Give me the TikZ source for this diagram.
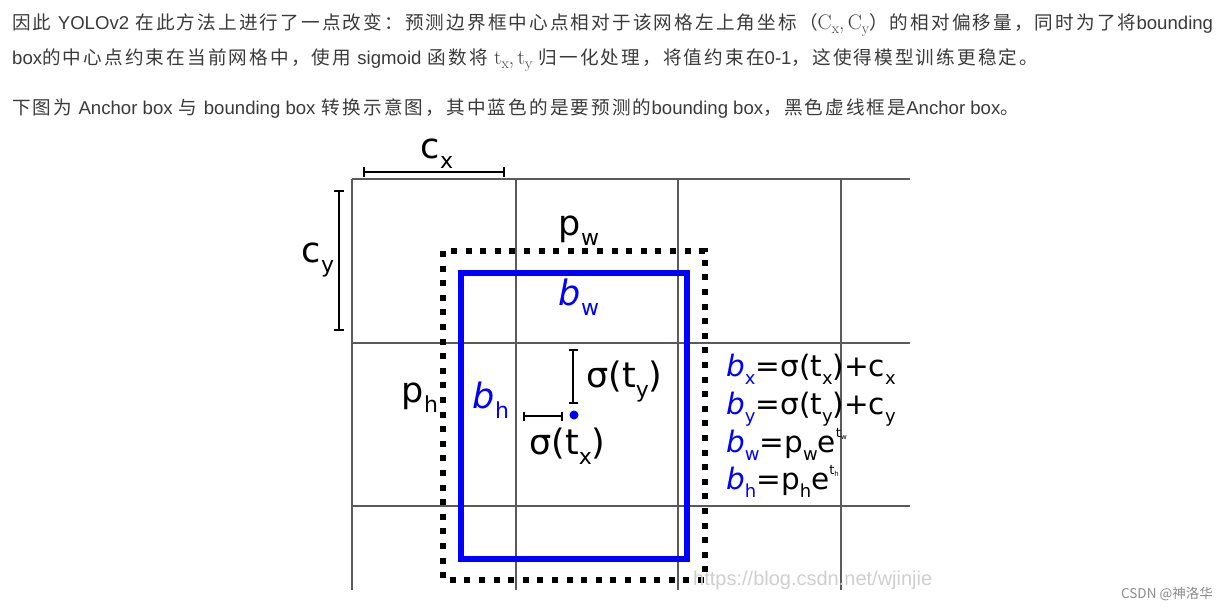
\documentclass[tikz,border=0pt]{standalone}
\usepackage[no-math]{fontspec}
\setmainfont{DejaVu Sans}
\newfontfamily\cjk[LetterSpace=11.5]{Noto Sans CJK SC}
\newfontfamily\cjkplain{Noto Sans CJK SC}
\newfontfamily\arialish{Liberation Sans}
\newfontfamily\lmr{Latin Modern Roman}
\usetikzlibrary{arrows.meta}
\definecolor{gridgray}{HTML}{5A5A5A}
\definecolor{txtgray}{HTML}{3A3A3A}
\definecolor{wmgray}{HTML}{CFCFCF}
\definecolor{bboxblue}{HTML}{0000FF}
\newcommand{\lsb}[1]{\raisebox{-0.3em}{\fontsize{22}{22}\selectfont #1}}
\newcommand{\esb}[1]{\raisebox{-0.3em}{\fontsize{18}{18}\selectfont #1}}
\newcommand{\expo}[1]{\raisebox{0.5em}{\fontsize{13}{13}\selectfont t\raisebox{-0.15em}{\fontsize{7}{7}\selectfont #1}}}
\newcommand{\la}[1]{{\arialish #1}}
\newcommand{\mv}[2]{{\lmr\fontsize{21}{21}\selectfont #1\raisebox{-0.22em}{\fontsize{15}{15}\selectfont #2}}}
\tikzset{
  x=1pt, y=-1pt,
  gridline/.style={draw=gridgray, line width=1.3pt},
  anchorbox/.style={draw=black, line width=6pt, dash pattern=on 6pt off 8.6pt},
  predbox/.style={draw=bboxblue, line width=6.5pt},
  dimbar/.style={draw=black, line width=2.3pt, {Bar[width=10pt]}-{Bar[width=10pt]}},
  smallbar/.style={draw=black, line width=2.2pt, {Bar[width=9pt]}-{Bar[width=9pt]}},
  lab/.style={inner sep=0pt, anchor=base, font=\fontsize{35}{35}\selectfont},
  eq/.style={inner sep=0pt, anchor=base west, font=\fontsize{29.5}{29.5}\selectfont},
  para/.style={inner sep=0pt, anchor=base west, text=txtgray, font=\cjk\fontsize{18.6}{18.6}\selectfont},
}
\begin{document}
\begin{tikzpicture}
\useasboundingbox[fill=white] (0,0) rectangle (1225,611);
% paragraph text
\node[para] (l1) at (12,29) {因此 \la{YOLOv2} 在此方法上进行了一点改变：预测边界框中心点相对于该网格左上角坐标（\mv{C}{x}\mv{,\,}{}\mv{C}{y}）的相对偏移量，同时为了将\la{bounding}};
\node[para] (l2) at (12,64) {\la{box}的中心点约束在当前网格中，使用 \la{sigmoid} 函数将 \mv{t}{x}\mv{,\,}{}\mv{t}{y} 归一化处理，将值约束在\la{0-1}，这使得模型训练更稳定。};
\node[para] (l3) at (12,114) {下图为 \la{Anchor box} 与 \la{bounding box} 转换示意图，其中蓝色的是要预测的\la{bounding box}，黑色虚线框是\la{Anchor box}。};
% grid
\foreach \gx in {352,516,678,841} \draw[gridline] (\gx,179) -- (\gx,590);
\foreach \gy in {179,343,506} \draw[gridline] (352,\gy) -- (910,\gy);
% anchor box (dotted) and predicted box (blue)
\draw[anchorbox] (443,251) rectangle (705,580);
\draw[predbox] (461,273) rectangle (687,559);
% dimension bars
\coordinate (cxa) at (363,172); \coordinate (cxb) at (505,172);
\coordinate (cya) at (339,190); \coordinate (cyb) at (339,331);
\coordinate (tya) at (573,349); \coordinate (tyb) at (573,404);
\coordinate (txa) at (523,416); \coordinate (txb) at (563,416);
\draw[dimbar] (cxa) -- (cxb);
\draw[dimbar] (cya) -- (cyb);
\draw[smallbar] (tya) -- (tyb);
\draw[smallbar] (txa) -- (txb);
\fill[bboxblue] (574,415) circle (4.5pt) node (ctr) {};
% labels
\node[lab] (cx) at (437,158) {c\lsb{x}};
\node[lab] (cy) at (318,262) {c\lsb{y}};
\node[lab] (pw) at (579,235) {p\lsb{w}};
\node[lab, text=bboxblue] (bw) at (579,305) {\itshape b\lsb{\upshape w}};
\node[lab] (ph) at (420,402) {p\lsb{h}};
\node[lab, text=bboxblue] (bh) at (491,408) {\itshape b\lsb{\upshape h}};
\node[lab, anchor=base west] (sty) at (586,387) {σ(t\lsb{y})};
\node[lab, anchor=base west] (stx) at (529,454) {σ(t\lsb{x})};
% equations
\node[eq] (ex) at (726,376) {\textcolor{bboxblue}{\itshape b\esb{\upshape x}}=σ(t\esb{x})+c\esb{x}};
\node[eq] (ey) at (726,414) {\textcolor{bboxblue}{\itshape b\esb{\upshape y}}=σ(t\esb{y})+c\esb{y}};
\node[eq] (ew) at (726,452) {\textcolor{bboxblue}{\itshape b\esb{\upshape w}}=p\esb{w}e\expo{w}};
\node[eq] (eh) at (726,489) {\textcolor{bboxblue}{\itshape b\esb{\upshape h}}=p\esb{h}e\expo{h}};
% watermarks
\node[inner sep=0pt, anchor=base west, text=wmgray, font=\arialish\fontsize{20}{20}\selectfont] (wm) at (693,585) {https://blog.csdn.net/wjinjie};
\node[inner sep=0pt, anchor=base east, text=gridgray!70, font=\cjkplain\fontsize{13.5}{13.5}\selectfont] (csdn) at (1213,598) {CSDN @神洛华};
\end{tikzpicture}
\end{document}
